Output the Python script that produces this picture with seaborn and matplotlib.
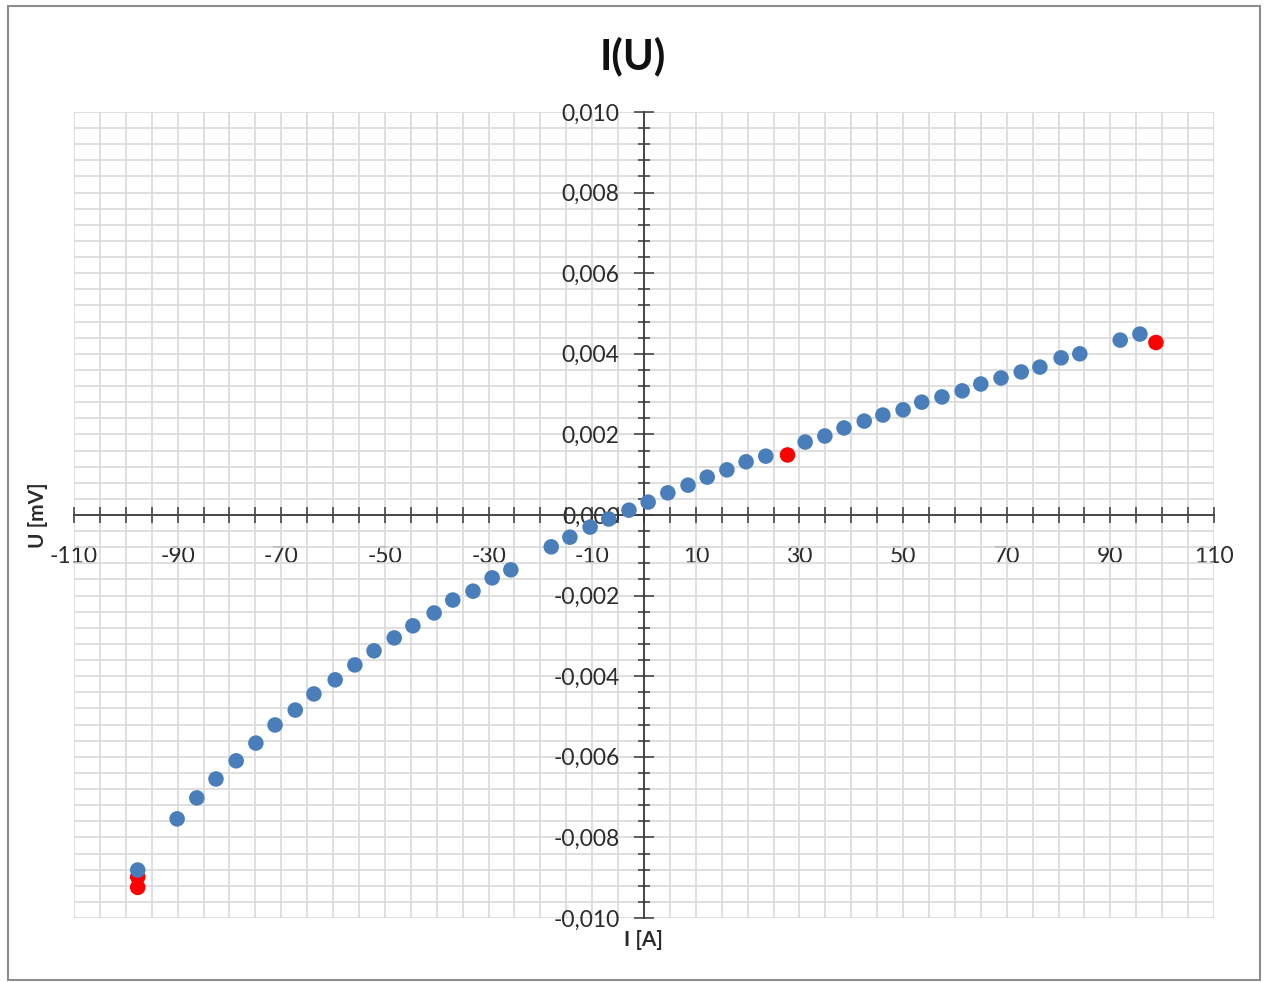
import numpy as np
import pandas as pd
import seaborn as sns
import matplotlib.pyplot as plt
from matplotlib.ticker import MultipleLocator, FixedLocator, FuncFormatter
from matplotlib.patches import Rectangle

# measured points (I [A], U [mV])
i_blue = [-97.7, -90.1, -86.3, -82.6, -78.7, -74.9, -71.2, -67.3, -63.7, -59.6,
          -55.8, -52.1, -48.2, -44.6, -40.5, -36.9, -33.0, -29.3, -25.7,
          -17.9, -14.3, -10.4, -6.8, -2.9, 0.8, 4.6, 8.5, 12.2, 16.0, 19.7, 23.5,
          31.1, 34.9, 38.6, 42.5, 46.1, 50.0, 53.6, 57.5, 61.4, 65.0, 68.9,
          72.8, 76.4, 80.5, 84.1, 91.9, 95.7]
u_blue = [-0.00881, -0.00754, -0.00702, -0.00655, -0.00610, -0.00566, -0.00521,
          -0.00484, -0.00444, -0.00409, -0.00372, -0.00337, -0.00305, -0.00275,
          -0.00243, -0.00211, -0.00189, -0.00156, -0.00136,
          -0.00079, -0.00055, -0.00030, -0.00010, 0.00012, 0.00032, 0.00055,
          0.00074, 0.00094, 0.00112, 0.00132, 0.00146,
          0.00181, 0.00196, 0.00216, 0.00233, 0.00248, 0.00261, 0.00280,
          0.00293, 0.00308, 0.00325, 0.00340, 0.00355, 0.00367, 0.00390,
          0.00400, 0.00434, 0.00449]

# outliers
i_red = [-97.7, -97.7, 27.7, 98.8]
u_red = [-0.00898, -0.00924, 0.00149, 0.00428]

x_labels = [-110, -90, -70, -50, -30, -10, 10, 30, 50, 70, 90, 110]

sns.set_style("white")
plt.rcParams['font.family'] = ['Lato', 'DejaVu Sans']

fig = plt.figure(figsize=(12.65, 9.82), dpi=100)
ax = fig.add_axes([74 / 1265, 1 - 918 / 982, (1214 - 74) / 1265, (918 - 112) / 982])

df_blue = pd.DataFrame({'I': i_blue, 'U': u_blue})
df_red = pd.DataFrame({'I': i_red, 'U': u_red})
sns.scatterplot(data=df_red, x='I', y='U', ax=ax, color='#FF0000', s=125,
                edgecolor='none', zorder=4)
sns.scatterplot(data=df_blue, x='I', y='U', ax=ax, color='#4A7EBB', s=125,
                edgecolor='none', zorder=5)

ax.set_xlim(-110, 110)
ax.set_ylim(-0.010, 0.010)

# axes cross at origin
for side in ['top', 'right']:
    ax.spines[side].set_visible(False)
ax.spines['left'].set_position(('data', 0))
ax.spines['bottom'].set_position(('data', 0))
for side in ['left', 'bottom']:
    ax.spines[side].set_color('#3A3A3A')
    ax.spines[side].set_linewidth(1.3)
    ax.spines[side].set_zorder(3)

ax.xaxis.set_major_locator(FixedLocator(x_labels))
ax.xaxis.set_minor_locator(MultipleLocator(5))
ax.yaxis.set_major_locator(MultipleLocator(0.002))
ax.yaxis.set_minor_locator(MultipleLocator(0.0004))

ax.yaxis.set_major_formatter(FuncFormatter(
    lambda v, p: f"{abs(v):.3f}".replace('.', ',') if abs(v) < 1e-9
    else f"{v:.3f}".replace('.', ',')))
ax.xaxis.set_major_formatter(FuncFormatter(lambda v, p: f"{v:.0f}"))

ax.tick_params(bottom=True, left=True, which='both')
ax.tick_params(axis='x', which='both', direction='inout', length=12, width=1.1,
               color='#3A3A3A', labelsize=16.5, pad=16, labelcolor='#2B2B2B')
ax.tick_params(axis='y', which='major', direction='inout', length=15, width=1.1,
               color='#3A3A3A', labelsize=16.5, pad=10, labelcolor='#2B2B2B')
ax.tick_params(axis='y', which='minor', direction='inout', length=9, width=1.1,
               color='#3A3A3A')

ax.grid(True, which='both', color='#D9D9D9', linewidth=1.2)
ax.set_axisbelow(True)
ax.set_xlabel('')
ax.set_ylabel('')

fig.text(0.5, 1 - 56 / 982, 'I(U)', ha='center', va='center',
         fontsize=30, fontweight='bold', color='#111111')
fig.text(38 / 1265, 1 - 515 / 982, 'U [mV]', ha='center', va='center',
         rotation=90, fontsize=15, fontweight='bold', color='#2B2B2B')
fig.text(643 / 1265, 1 - 940 / 982, 'I [A]', ha='center', va='center',
         fontsize=15, fontweight='bold', color='#2B2B2B')

# chart frame
fig.patches.append(Rectangle((8 / 1265, 2 / 982), 1252 / 1265, 974 / 982,
                             transform=fig.transFigure, fill=False,
                             edgecolor='#8C8C8C', linewidth=1.5))

fig.savefig('out.png', dpi=100)
